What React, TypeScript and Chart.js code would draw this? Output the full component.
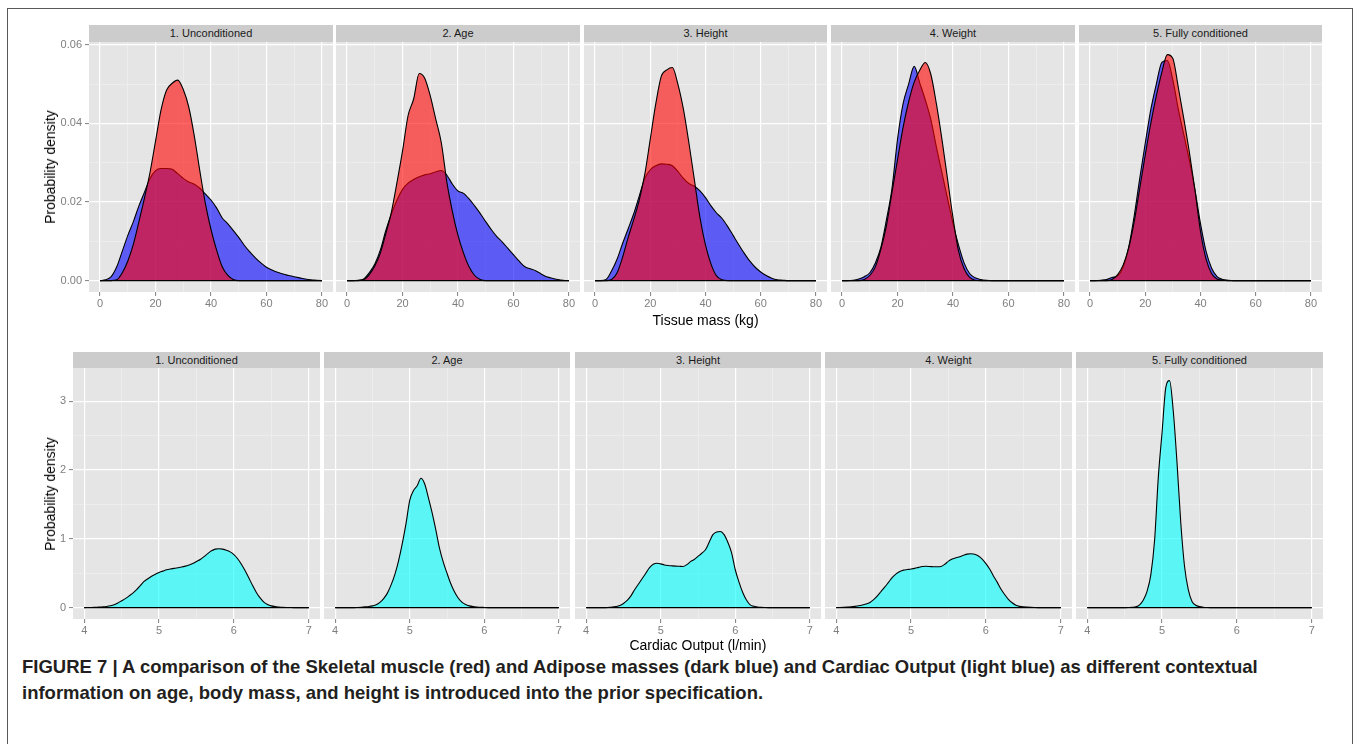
import React, { useEffect, useRef } from 'react';
import { Chart, registerables } from 'chart.js';

Chart.register(...registerables);

const FONT = '"Liberation Sans", Arial, Helvetica, sans-serif';
Chart.defaults.font.family = FONT;

// ---------- facets ----------
const FACETS = ['1. Unconditioned', '2. Age', '3. Height', '4. Weight', '5. Fully conditioned'];

// ---------- tissue mass densities (kg grid, step 2) ----------
const MASS_X = [
  0, 2, 4, 6, 8, 10, 12, 14, 16, 18, 20, 22, 24, 26, 28, 30, 32, 34, 36, 38, 40,
  42, 44, 46, 48, 50, 52, 54, 56, 58, 60, 62, 64, 66, 68, 70, 72, 74, 76, 78, 80,
];
const MASS_X_MAJOR = [0, 20, 40, 60, 80];
const MASS_X_MINOR = [10, 30, 50, 70];
const MASS_Y_MAJOR = [0, 0.02, 0.04, 0.06];
const MASS_Y_MINOR = [0.01, 0.03, 0.05];

// Skeletal muscle (red)
const SKEL_UNCOND = [
  0, 0, 0, 0.0002, 0.002, 0.005, 0.0093, 0.015, 0.021, 0.0275, 0.0355, 0.0435, 0.0485,
  0.0502, 0.051, 0.0486, 0.0441, 0.0367, 0.0278, 0.0195, 0.013, 0.0078, 0.0036, 0.0014,
  0.0003, 0, 0, 0, 0, 0, 0, 0, 0, 0, 0, 0, 0, 0, 0, 0, 0,
];
const SKEL_AGE = [
  0, 0, 0, 0.0002, 0.0015, 0.0037, 0.007, 0.012, 0.0175, 0.025, 0.033, 0.042, 0.0462,
  0.0527, 0.0515, 0.047, 0.041, 0.035, 0.025, 0.0175, 0.0115, 0.007, 0.0035, 0.0013,
  0.0003, 0, 0, 0, 0, 0, 0, 0, 0, 0, 0, 0, 0, 0, 0, 0, 0,
];
const SKEL_HEIGHT = [
  0, 0, 0, 0.0003, 0.002, 0.006, 0.011, 0.0155, 0.0205, 0.027, 0.036, 0.045, 0.052,
  0.0536, 0.0542, 0.05, 0.0436, 0.035, 0.0255, 0.016, 0.009, 0.0042, 0.0012, 0.0002,
  0, 0, 0, 0, 0, 0, 0, 0, 0, 0, 0, 0, 0, 0, 0, 0, 0,
];
const SKEL_WEIGHT = [
  0, 0, 0, 0, 0.0003, 0.0013, 0.0035, 0.008, 0.014, 0.0225, 0.0308, 0.039, 0.0455,
  0.0505, 0.0535, 0.0555, 0.0525, 0.045, 0.036, 0.026, 0.016, 0.0075, 0.003, 0.0008,
  0.0001, 0, 0, 0, 0, 0, 0, 0, 0, 0, 0, 0, 0, 0, 0, 0, 0,
];
const SKEL_FULL = [
  0, 0, 0, 0, 0.0003, 0.0015, 0.004, 0.0083, 0.015, 0.0235, 0.032, 0.04, 0.047,
  0.053, 0.0575, 0.0565, 0.049, 0.041, 0.0325, 0.023, 0.0125, 0.0055, 0.0018, 0.0004,
  0.0001, 0, 0, 0, 0, 0, 0, 0, 0, 0, 0, 0, 0, 0, 0, 0, 0,
];

// Adipose (dark blue)
const ADIP_UNCOND = [
  0, 0.0002, 0.001, 0.0035, 0.0075, 0.0115, 0.015, 0.019, 0.0225, 0.026, 0.028, 0.0285,
  0.0285, 0.0283, 0.0272, 0.026, 0.0251, 0.0245, 0.0235, 0.022, 0.0205, 0.0185, 0.016,
  0.0145, 0.0128, 0.011, 0.009, 0.0073, 0.0058, 0.0045, 0.0034, 0.0027, 0.0021, 0.0017,
  0.0013, 0.001, 0.0007, 0.0004, 0.0002, 0.0001, 0,
];
const ADIP_AGE = [
  0, 0, 0.0001, 0.0004, 0.002, 0.0042, 0.0078, 0.0128, 0.017, 0.0205, 0.0232, 0.0248,
  0.0257, 0.0264, 0.0269, 0.0272, 0.0277, 0.028, 0.0268, 0.0245, 0.0228, 0.0222, 0.0208,
  0.019, 0.0171, 0.015, 0.013, 0.0112, 0.0098, 0.0082, 0.0066, 0.005, 0.0036, 0.003,
  0.0025, 0.0017, 0.001, 0.0006, 0.0003, 0.0001, 0,
];
const ADIP_HEIGHT = [
  0, 0, 0.0003, 0.0025, 0.0055, 0.0095, 0.0132, 0.017, 0.0215, 0.026, 0.0282, 0.0292,
  0.0297, 0.0296, 0.0292, 0.0278, 0.026, 0.0247, 0.024, 0.0228, 0.0211, 0.019, 0.0172,
  0.0158, 0.0138, 0.0115, 0.0092, 0.007, 0.005, 0.0034, 0.0022, 0.0013, 0.0006, 0.0002,
  0.0001, 0, 0, 0, 0, 0, 0,
];
const ADIP_WEIGHT = [
  0, 0, 0.0001, 0.0004, 0.001, 0.002, 0.0045, 0.0085, 0.0155, 0.0235, 0.036, 0.045,
  0.05, 0.0545, 0.0503, 0.046, 0.041, 0.034, 0.0275, 0.021, 0.0145, 0.009, 0.0045,
  0.0018, 0.0007, 0.0003, 0.0001, 0, 0, 0, 0, 0, 0, 0, 0, 0, 0, 0, 0, 0, 0,
];
const ADIP_FULL = [
  0, 0, 0.0001, 0.0003, 0.0008, 0.0012, 0.0035, 0.0085, 0.0165, 0.026, 0.035, 0.0435,
  0.05, 0.0555, 0.056, 0.051, 0.0435, 0.037, 0.0305, 0.023, 0.0145, 0.0075, 0.0032,
  0.001, 0.0003, 0.0001, 0, 0, 0, 0, 0, 0, 0, 0, 0, 0, 0, 0, 0, 0, 0,
];

// ---------- cardiac output densities (l/min grid, step 0.05) ----------
const CO_X = [
  4.0, 4.05, 4.1, 4.15, 4.2, 4.25, 4.3, 4.35, 4.4, 4.45, 4.5, 4.55, 4.6, 4.65, 4.7, 4.75,
  4.8, 4.85, 4.9, 4.95, 5.0, 5.05, 5.1, 5.15, 5.2, 5.25, 5.3, 5.35, 5.4, 5.45, 5.5, 5.55,
  5.6, 5.65, 5.7, 5.75, 5.8, 5.85, 5.9, 5.95, 6.0, 6.05, 6.1, 6.15, 6.2, 6.25, 6.3, 6.35,
  6.4, 6.45, 6.5, 6.55, 6.6, 6.65, 6.7, 6.75, 6.8, 6.85, 6.9, 6.95, 7.0,
];
const CO_X_MAJOR = [4, 5, 6, 7];
const CO_X_MINOR = [4.5, 5.5, 6.5];
const CO_Y_MAJOR = [0, 1, 2, 3];
const CO_Y_MINOR = [0.5, 1.5, 2.5];

const CO_UNCOND = [
  0, 0.001, 0.002, 0.004, 0.006, 0.01, 0.016, 0.026, 0.042, 0.068, 0.1, 0.13, 0.17, 0.21,
  0.26, 0.32, 0.38, 0.42, 0.455, 0.485, 0.51, 0.53, 0.55, 0.562, 0.57, 0.58, 0.59, 0.603,
  0.62, 0.64, 0.67, 0.7, 0.74, 0.785, 0.825, 0.85, 0.855, 0.85, 0.835, 0.81, 0.77, 0.71,
  0.63, 0.535, 0.43, 0.32, 0.22, 0.14, 0.08, 0.045, 0.025, 0.014, 0.008, 0.004, 0.002,
  0.001, 0, 0, 0, 0, 0,
];
const CO_AGE = [
  0, 0, 0, 0, 0, 0, 0.002, 0.005, 0.01, 0.016, 0.025, 0.04, 0.075, 0.13, 0.21, 0.33, 0.48,
  0.68, 0.93, 1.22, 1.56, 1.7, 1.77, 1.88, 1.8, 1.6, 1.38, 1.13, 0.86, 0.66, 0.5, 0.35,
  0.23, 0.14, 0.08, 0.045, 0.025, 0.014, 0.008, 0.004, 0.002, 0, 0, 0, 0, 0, 0, 0, 0, 0,
  0, 0, 0, 0, 0, 0, 0, 0, 0, 0, 0,
];
const CO_HEIGHT = [
  0, 0, 0, 0, 0, 0, 0.002, 0.006, 0.015, 0.03, 0.06, 0.105, 0.17, 0.26, 0.34, 0.42, 0.5,
  0.58, 0.63, 0.645, 0.635, 0.62, 0.612, 0.607, 0.603, 0.6, 0.597, 0.625, 0.668, 0.7,
  0.745, 0.79, 0.84, 0.95, 1.06, 1.1, 1.107, 1.06, 0.95, 0.8, 0.55, 0.37, 0.22, 0.11,
  0.04, 0.018, 0.008, 0.003, 0.001, 0, 0, 0, 0, 0, 0, 0, 0, 0, 0, 0, 0,
];
const CO_WEIGHT = [
  0, 0.001, 0.003, 0.006, 0.01, 0.017, 0.026, 0.038, 0.052, 0.075, 0.115, 0.17, 0.235,
  0.3, 0.37, 0.44, 0.49, 0.525, 0.545, 0.553, 0.56, 0.57, 0.585, 0.597, 0.6, 0.597, 0.594,
  0.593, 0.598, 0.63, 0.675, 0.705, 0.725, 0.74, 0.76, 0.777, 0.782, 0.775, 0.75, 0.705,
  0.64, 0.56, 0.46, 0.37, 0.27, 0.19, 0.12, 0.07, 0.035, 0.018, 0.01, 0.006, 0.003,
  0.001, 0, 0, 0, 0, 0, 0, 0,
];
const CO_FULL = [
  0, 0, 0, 0, 0, 0, 0, 0, 0, 0, 0, 0.001, 0.003, 0.01, 0.04, 0.11, 0.24, 0.48, 0.98, 1.9,
  2.55, 3.2, 3.3, 2.85, 2.1, 1.23, 0.6, 0.26, 0.09, 0.035, 0.015, 0.005, 0.001, 0, 0, 0,
  0, 0, 0, 0, 0, 0, 0, 0, 0, 0, 0, 0, 0, 0, 0, 0, 0, 0, 0, 0, 0, 0, 0, 0, 0,
];

const SKELETAL = [SKEL_UNCOND, SKEL_AGE, SKEL_HEIGHT, SKEL_WEIGHT, SKEL_FULL];
const ADIPOSE = [ADIP_UNCOND, ADIP_AGE, ADIP_HEIGHT, ADIP_WEIGHT, ADIP_FULL];
const CARDIAC = [CO_UNCOND, CO_AGE, CO_HEIGHT, CO_WEIGHT, CO_FULL];

// ---------- styling ----------
const RED = 'rgba(255,0,0,0.6)';
const BLUE = 'rgba(0,0,255,0.6)';
const CYAN = 'rgba(0,255,255,0.6)';
const PANEL_BG = '#E5E5E5';
const STRIP_BG = '#CCCCCC';
const TICK_GREY = '#7F7F7F';

const PAD = 10; // spare room above / right of each plot area
const AXW = 50; // room for the y tick labels
const AXH = 22; // room for the x tick labels

type Row = {
  lefts: number[];
  width: number;
  top: number;
  height: number;
  stripTop: number;
  stripH: number;
};

const TOP_ROW: Row = { lefts: [89, 336.4, 583.8, 831.2, 1078.6], width: 243.5, top: 42, height: 250, stripTop: 25, stripH: 17 };
const BOTTOM_ROW: Row = { lefts: [73, 323.8, 574.6, 825.4, 1076.2], width: 246.5, top: 368, height: 251, stripTop: 352, stripH: 16 };

type Series = { values: number[]; fill: string };

type PanelSpec = {
  left: number;
  right: number;
  top: number;
  height: number;
  xs: number[];
  series: Series[];
  xMin: number;
  xMax: number;
  yMin: number;
  yMax: number;
  xMajor: number[];
  xMinor: number[];
  yMajor: number[];
  yMinor: number[];
  fmtX: (v: number) => string;
  fmtY: (v: number) => string;
  showY: boolean;
};

const near = (list: number[], v: number) => list.some((m) => Math.abs(m - v) < 1e-9);

const panelBackground = {
  id: 'panelBackground',
  beforeDraw(chart: any) {
    const { ctx, chartArea: a } = chart;
    ctx.save();
    ctx.fillStyle = PANEL_BG;
    ctx.fillRect(a.left, a.top, a.right - a.left, a.bottom - a.top);
    ctx.restore();
  },
};

// closing edge of the density polygons along zero
const densityBaseline = {
  id: 'densityBaseline',
  afterDatasetsDraw(chart: any) {
    const pts = chart.data.datasets[0].data as { x: number; y: number }[];
    const xs = chart.scales.x;
    const ys = chart.scales.y;
    const { ctx } = chart;
    ctx.save();
    ctx.strokeStyle = '#000000';
    ctx.lineWidth = 1.1;
    ctx.beginPath();
    ctx.moveTo(xs.getPixelForValue(pts[0].x), ys.getPixelForValue(0));
    ctx.lineTo(xs.getPixelForValue(pts[pts.length - 1].x), ys.getPixelForValue(0));
    ctx.stroke();
    ctx.restore();
  },
};

function axisOptions(
  min: number,
  max: number,
  major: number[],
  minor: number[],
  fmt: (v: number) => string,
  showLabels: boolean,
  fitKey: 'width' | 'height',
  fitSize: number,
  padding: number
) {
  const all = [...major, ...minor].sort((a, b) => a - b);
  return {
    type: 'linear' as const,
    min,
    max,
    afterBuildTicks: (scale: any) => {
      scale.ticks = all.map((value) => ({ value }));
    },
    afterFit: (scale: any) => {
      scale[fitKey] = fitSize;
    },
    ticks: {
      autoSkip: false,
      maxRotation: 0,
      padding,
      color: TICK_GREY,
      font: { family: FONT, size: 11 },
      callback: (v: any) => (showLabels && near(major, Number(v)) ? fmt(Number(v)) : ''),
    },
    grid: {
      drawOnChartArea: true,
      drawTicks: true,
      tickLength: 4,
      tickWidth: 1,
      color: (c: any) => (c.tick && near(major, c.tick.value) ? '#FFFFFF' : '#F2F2F2'),
      lineWidth: (c: any) => (c.tick && near(major, c.tick.value) ? 1.2 : 0.6),
      tickColor: (c: any) =>
        showLabels && c.tick && near(major, c.tick.value) ? TICK_GREY : 'rgba(0,0,0,0)',
    },
    border: { display: false },
  };
}

function DensityPanel({ spec }: { spec: PanelSpec }) {
  const ref = useRef<HTMLCanvasElement>(null);
  const left = Math.round(spec.left);
  const right = Math.round(spec.right);
  const cw = AXW + (right - left) + PAD;
  const ch = PAD + spec.height + AXH;

  useEffect(() => {
    if (!ref.current) return;
    const chart = new Chart(ref.current, {
      type: 'line',
      data: {
        datasets: spec.series.map((s) => ({
          data: spec.xs.map((x, i) => ({ x, y: s.values[i] })),
          backgroundColor: s.fill,
          borderColor: '#000000',
          borderWidth: 1.1,
          pointRadius: 0,
          fill: 'origin',
          cubicInterpolationMode: 'monotone' as const,
        })),
      },
      options: {
        animation: false,
        responsive: false,
        maintainAspectRatio: false,
        devicePixelRatio: 1,
        events: [],
        layout: { padding: { top: PAD, right: PAD, left: 0, bottom: 0 } },
        plugins: {
          legend: { display: false },
          tooltip: { enabled: false },
          title: { display: false },
        },
        scales: {
          x: axisOptions(spec.xMin, spec.xMax, spec.xMajor, spec.xMinor, spec.fmtX, true, 'height', AXH, 1),
          y: axisOptions(spec.yMin, spec.yMax, spec.yMajor, spec.yMinor, spec.fmtY, spec.showY, 'width', AXW, 3),
        },
      } as any,
      plugins: [panelBackground, densityBaseline],
    });
    return () => chart.destroy();
  }, []);

  return (
    <canvas
      ref={ref}
      width={cw}
      height={ch}
      style={{ position: 'absolute', left: left - AXW, top: spec.top - PAD, width: cw, height: ch }}
    />
  );
}

function Strip({ label, left, right, top, height }: { label: string; left: number; right: number; top: number; height: number }) {
  return (
    <div
      style={{
        position: 'absolute',
        left,
        top,
        width: right - left,
        height,
        background: STRIP_BG,
        color: '#1A1A1A',
        font: `11px ${FONT}`,
        lineHeight: `${height}px`,
        textAlign: 'center',
        whiteSpace: 'nowrap',
      }}
    >
      {label}
    </div>
  );
}

function YTitle({ text, cx, cy }: { text: string; cx: number; cy: number }) {
  return (
    <div
      style={{
        position: 'absolute',
        left: cx,
        top: cy,
        transform: 'translate(-50%, -50%) rotate(-90deg)',
        font: `14px ${FONT}`,
        color: '#000000',
        whiteSpace: 'nowrap',
      }}
    >
      {text}
    </div>
  );
}

function XTitle({ text, cx, cy }: { text: string; cx: number; cy: number }) {
  return (
    <div
      style={{
        position: 'absolute',
        left: cx,
        top: cy,
        transform: 'translate(-50%, -50%)',
        font: `14px ${FONT}`,
        color: '#000000',
        whiteSpace: 'nowrap',
      }}
    >
      {text}
    </div>
  );
}

export default function App() {
  const massSpecs: PanelSpec[] = FACETS.map((_, i) => ({
    left: TOP_ROW.lefts[i],
    right: TOP_ROW.lefts[i] + TOP_ROW.width,
    top: TOP_ROW.top,
    height: TOP_ROW.height,
    xs: MASS_X,
    series: [
      { values: SKELETAL[i], fill: RED },
      { values: ADIPOSE[i], fill: BLUE },
    ],
    xMin: -4,
    xMax: 84,
    yMin: -0.0029,
    yMax: 0.0607,
    xMajor: MASS_X_MAJOR,
    xMinor: MASS_X_MINOR,
    yMajor: MASS_Y_MAJOR,
    yMinor: MASS_Y_MINOR,
    fmtX: (v) => String(v),
    fmtY: (v) => v.toFixed(2),
    showY: i === 0,
  }));

  const coSpecs: PanelSpec[] = FACETS.map((_, i) => ({
    left: BOTTOM_ROW.lefts[i],
    right: BOTTOM_ROW.lefts[i] + BOTTOM_ROW.width,
    top: BOTTOM_ROW.top,
    height: BOTTOM_ROW.height,
    xs: CO_X,
    series: [{ values: CARDIAC[i], fill: CYAN }],
    xMin: 3.85,
    xMax: 7.15,
    yMin: -0.166,
    yMax: 3.483,
    xMajor: CO_X_MAJOR,
    xMinor: CO_X_MINOR,
    yMajor: CO_Y_MAJOR,
    yMinor: CO_Y_MINOR,
    fmtX: (v) => String(v),
    fmtY: (v) => String(v),
    showY: i === 0,
  }));

  const massLeft = TOP_ROW.lefts[0];
  const massRight = TOP_ROW.lefts[4] + TOP_ROW.width;
  const coLeft = BOTTOM_ROW.lefts[0];
  const coRight = BOTTOM_ROW.lefts[4] + BOTTOM_ROW.width;

  return (
    <div
      style={{
        position: 'absolute',
        left: 0,
        top: 0,
        width: 1358,
        height: 744,
        overflow: 'hidden',
        background: '#FFFFFF',
        fontFamily: FONT,
      }}
    >
      <div
        style={{
          position: 'absolute',
          left: 7,
          top: 8,
          width: 1344,
          height: 800,
          border: '1.5px solid #595959',
        }}
      />

      {FACETS.map((f, i) => (
        <Strip
          key={`ms${i}`}
          label={f}
          left={Math.round(TOP_ROW.lefts[i])}
          right={Math.round(TOP_ROW.lefts[i] + TOP_ROW.width)}
          top={TOP_ROW.stripTop}
          height={TOP_ROW.stripH}
        />
      ))}
      {massSpecs.map((s, i) => (
        <DensityPanel key={`mp${i}`} spec={s} />
      ))}
      <YTitle text="Probability density" cx={50} cy={TOP_ROW.top + TOP_ROW.height / 2} />
      <XTitle text="Tissue mass (kg)" cx={(massLeft + massRight) / 2} cy={320} />

      {FACETS.map((f, i) => (
        <Strip
          key={`cs${i}`}
          label={f}
          left={Math.round(BOTTOM_ROW.lefts[i])}
          right={Math.round(BOTTOM_ROW.lefts[i] + BOTTOM_ROW.width)}
          top={BOTTOM_ROW.stripTop}
          height={BOTTOM_ROW.stripH}
        />
      ))}
      {coSpecs.map((s, i) => (
        <DensityPanel key={`cp${i}`} spec={s} />
      ))}
      <YTitle text="Probability density" cx={50} cy={BOTTOM_ROW.top + BOTTOM_ROW.height / 2} />
      <XTitle text="Cardiac Output (l/min)" cx={(coLeft + coRight) / 2} cy={645} />

      <div
        style={{
          position: 'absolute',
          left: 22,
          top: 654,
          font: `bold 18.5px ${FONT}`,
          lineHeight: '26px',
          color: '#231F20',
          whiteSpace: 'nowrap',
        }}
      >
        FIGURE 7 | A comparison of the Skeletal muscle (red) and Adipose masses (dark blue) and Cardiac
        Output (light blue) as different contextual
        <br />
        information on age, body mass, and height is introduced into the prior specification.
      </div>
    </div>
  );
}
